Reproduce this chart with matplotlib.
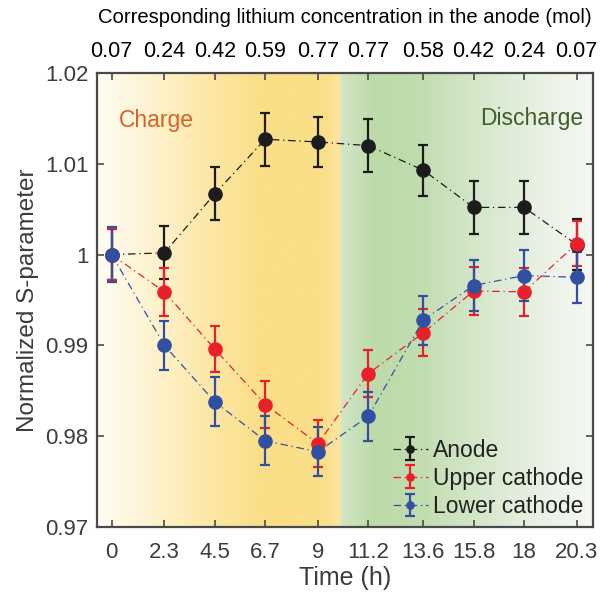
import numpy as np
import matplotlib
matplotlib.use("Agg")
import matplotlib.pyplot as plt
from matplotlib.colors import LinearSegmentedColormap, to_rgb

plt.rcParams["font.family"] = ["Liberation Sans", "DejaVu Sans"]

# ── Data ─────────────────────────────────────────────
time_h = [0, 2.3, 4.5, 6.7, 9, 11.2, 13.6, 15.8, 18, 20.3]
time_labels = ["0", "2.3", "4.5", "6.7", "9", "11.2", "13.6", "15.8", "18", "20.3"]
li_labels = ["0.07", "0.24", "0.42", "0.59", "0.77", "0.77", "0.58", "0.42", "0.24", "0.07"]

anode = [1.0000, 1.0002, 1.0067, 1.0127, 1.0124, 1.0120, 1.0093, 1.0052, 1.0052, 1.0011]
anode_err = [0.0028, 0.0029, 0.0029, 0.0029, 0.0028, 0.0029, 0.0028, 0.0029, 0.0029, 0.0028]

upper = [1.0000, 0.9959, 0.9896, 0.9835, 0.9792, 0.9869, 0.9914, 0.9960, 0.9959, 1.0012]
upper_err = [0.0028, 0.0026, 0.0025, 0.0026, 0.0026, 0.0026, 0.0026, 0.0026, 0.0026, 0.0025]

lower = [1.0000, 0.9900, 0.9838, 0.9795, 0.9783, 0.9822, 0.9928, 0.9966, 0.9977, 0.9975]
lower_err = [0.0030, 0.0027, 0.0027, 0.0027, 0.0027, 0.0027, 0.0027, 0.0028, 0.0028, 0.0028]

XMIN, XMAX = -0.65, 21.0
YMIN, YMAX = 0.97, 1.02

fig = plt.figure(figsize=(6.13, 5.93), dpi=100)
ax = fig.add_axes([0.158, 0.111, 0.809, 0.766])

# ── Background gradient (charge / discharge) ─────────
stops = [
    (XMIN, "#fffcf3"), (2.0, "#fef2cb"), (4.5, "#fce6a2"), (6.5, "#fadf88"),
    (9.3, "#fadf89"), (9.98, "#fbe5a4"),
    (10.0, "#d2e6c6"), (11.5, "#bddaa9"), (13.5, "#c2ddb0"), (16.5, "#d9e9d0"),
    (19.5, "#eef4ea"), (XMAX, "#f5f7f3"),
]
span = XMAX - XMIN
cmap = LinearSegmentedColormap.from_list(
    "bg", [((t - XMIN) / span, to_rgb(c)) for t, c in stops], N=1024)
grad = np.linspace(0, 1, 1024).reshape(1, -1)
ax.imshow(grad, cmap=cmap, aspect="auto", extent=[XMIN, XMAX, YMIN, YMAX],
          interpolation="bilinear", zorder=0)

# ── Series ───────────────────────────────────────────
series = [
    ("Anode", anode, anode_err, "#1c1c1c"),
    ("Upper cathode", upper, upper_err, "#e8202a"),
    ("Lower cathode", lower, lower_err, "#3150a2"),
]
for name, vals, errs, col in series:
    ax.errorbar(time_h, vals, yerr=errs, color=col, ecolor=col, fmt="o",
                linestyle=(0, (6, 3, 1, 3)), linewidth=0.9, markersize=9.5,
                elinewidth=1.6, capsize=3.5, capthick=1.6, label=name, zorder=3)

ax.set_xlim(XMIN, XMAX)
ax.set_ylim(YMIN, YMAX)
ax.set_xticks(time_h)
ax.set_xticklabels(time_labels)
ax.set_yticks([0.97, 0.98, 0.99, 1.00, 1.01, 1.02])
ax.set_yticklabels(["0.97", "0.98", "0.99", "1", "1.01", "1.02"])

spine_col = "#4a4a4a"
text_col = "#3c3c3c"
for s in ax.spines.values():
    s.set_color(spine_col)
    s.set_linewidth(1.6)
ax.tick_params(direction="in", length=5, width=1.2, color=spine_col,
               labelsize=16, labelcolor=text_col, right=True)
ax.tick_params(axis="x", pad=11)
ax.tick_params(axis="y", pad=6)
ax.set_xlabel("Time (h)", fontsize=18, color=text_col, labelpad=2)
ax.set_ylabel("Normalized S-parameter", fontsize=17.5, color=text_col, labelpad=4)

# ── Top axis: lithium concentration ──────────────────
top = ax.twiny()
top.set_xlim(XMIN, XMAX)
top.set_xticks(time_h)
top.set_xticklabels(li_labels)
top.tick_params(direction="in", length=5, width=1.2, color=spine_col,
                labelsize=15.5, labelcolor="black", pad=8)
for s in top.spines.values():
    s.set_visible(False)
top.set_xlabel("Corresponding lithium concentration in the anode (mol)",
               fontsize=14.6, color="black", labelpad=13)

# ── Annotations ──────────────────────────────────────
ax.text(0.3, 1.0148, "Charge", fontsize=16.5, color="#d4622a", ha="left", va="center")
ax.text(20.6, 1.0150, "Discharge", fontsize=16.5, color="#3e5f2c", ha="right", va="center")

leg = ax.legend(loc="lower right", frameon=False, fontsize=16.5, markerscale=0.55,
                handlelength=1.5, handletextpad=0.25, labelspacing=0.22,
                borderaxespad=0.0)
for t in leg.get_texts():
    t.set_color("#222222")

fig.savefig("out.png", dpi=100)
